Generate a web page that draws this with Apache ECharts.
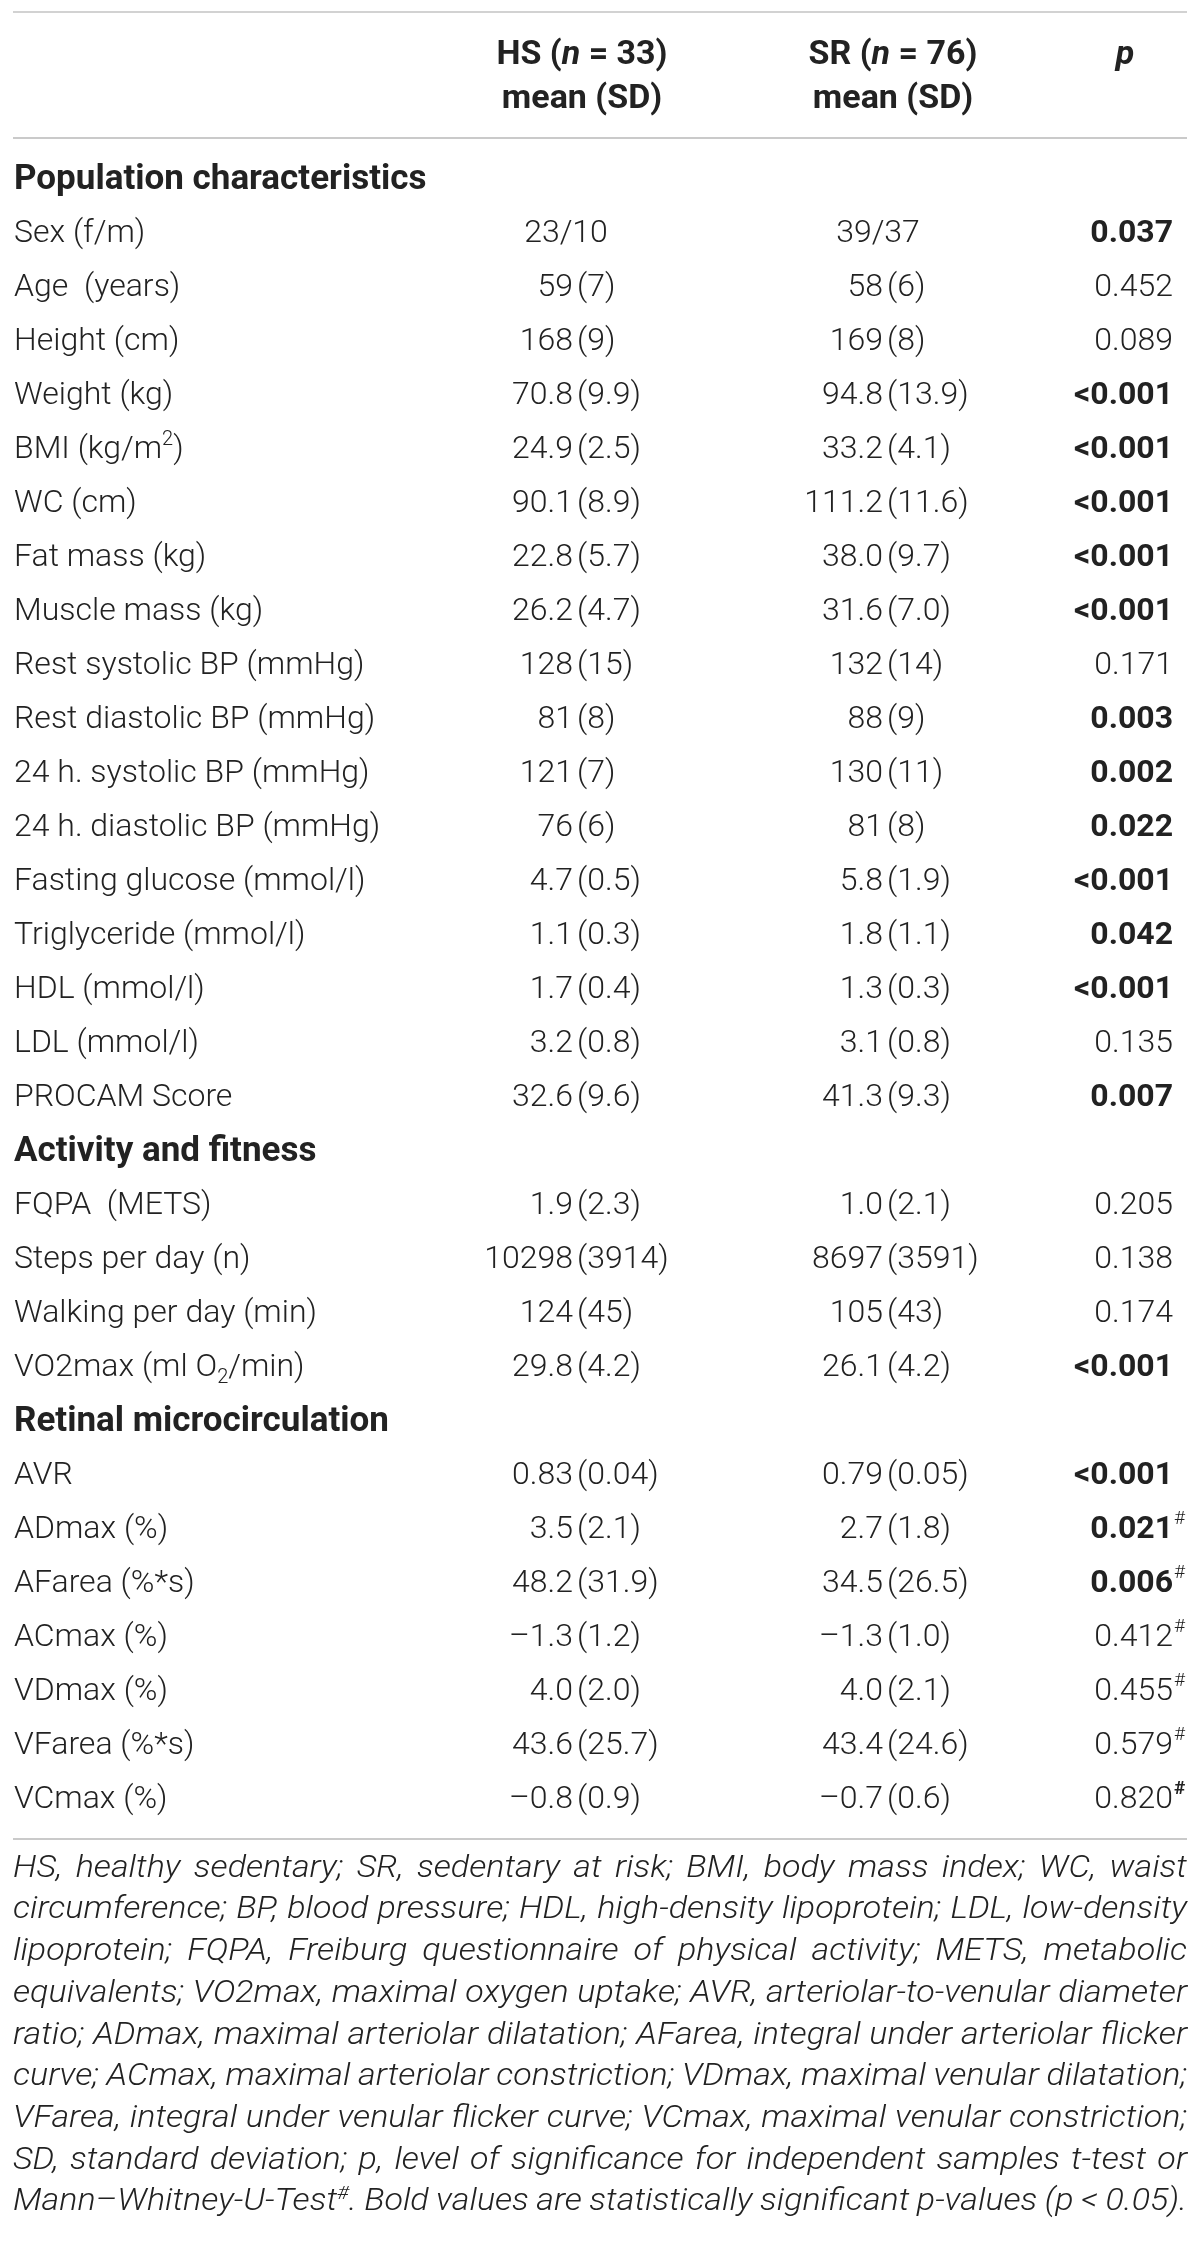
<!DOCTYPE html>
<html>
<head>
<meta charset="utf-8">
<script src="https://cdn.jsdelivr.net/npm/echarts@6/dist/echarts.min.js"></script>
<style>
  html, body { margin: 0; padding: 0; background: #fff; }
  #main { width: 1200px; height: 2243px; }
</style>
</head>
<body>
<div id="main"></div>
<script>
var FONT = 'Roboto, "Liberation Sans", Arial, sans-serif';
var FOOT_FONT = 'Roboto, "Liberation Sans", sans-serif';
var INK = '#222';
var RULE = '#b8b8b8';

// rows of the table, section titles have no values
var rowLabels = [
  'Population characteristics',
  'Sex (f/m)', 'Age  (years)', 'Height (cm)', 'Weight (kg)', 'BMI (kg/m{sup|2})',
  'WC (cm)', 'Fat mass (kg)', 'Muscle mass (kg)', 'Rest systolic BP (mmHg)',
  'Rest diastolic BP (mmHg)', '24 h. systolic BP (mmHg)', '24 h. diastolic BP (mmHg)',
  'Fasting glucose (mmol/l)', 'Triglyceride (mmol/l)', 'HDL (mmol/l)', 'LDL (mmol/l)',
  'PROCAM Score',
  'Activity and fitness',
  'FQPA  (METS)', 'Steps per day (n)', 'Walking per day (min)', 'VO2max (ml O{sub|2}/min)',
  'Retinal microcirculation',
  'AVR', 'ADmax (%)', 'AFarea (%*s)', 'ACmax (%)', 'VDmax (%)', 'VFarea (%*s)', 'VCmax (%)'
];
var hsMean = [null, '23/10', '59', '168', '70.8', '24.9', '90.1', '22.8', '26.2', '128', '81', '121', '76',
  '4.7', '1.1', '1.7', '3.2', '32.6', null, '1.9', '10298', '124', '29.8', null,
  '0.83', '3.5', '48.2', '–1.3', '4.0', '43.6', '–0.8'];
var hsSd = [null, null, '7', '9', '9.9', '2.5', '8.9', '5.7', '4.7', '15', '8', '7', '6',
  '0.5', '0.3', '0.4', '0.8', '9.6', null, '2.3', '3914', '45', '4.2', null,
  '0.04', '2.1', '31.9', '1.2', '2.0', '25.7', '0.9'];
var srMean = [null, '39/37', '58', '169', '94.8', '33.2', '111.2', '38.0', '31.6', '132', '88', '130', '81',
  '5.8', '1.8', '1.3', '3.1', '41.3', null, '1.0', '8697', '105', '26.1', null,
  '0.79', '2.7', '34.5', '–1.3', '4.0', '43.4', '–0.7'];
var srSd = [null, null, '6', '8', '13.9', '4.1', '11.6', '9.7', '7.0', '14', '9', '11', '8',
  '1.9', '1.1', '0.3', '0.8', '9.3', null, '2.1', '3591', '43', '4.2', null,
  '0.05', '1.8', '26.5', '1.0', '2.1', '24.6', '0.6'];
var pValues = [null, '0.037', '0.452', '0.089', '<0.001', '<0.001', '<0.001', '<0.001', '<0.001', '0.171',
  '0.003', '0.002', '0.022', '<0.001', '0.042', '<0.001', '0.135', '0.007', null,
  '0.205', '0.138', '0.174', '<0.001', null,
  '<0.001', '0.021', '0.006', '0.412', '0.455', '0.579', '0.820'];
// 1 = significant (bold)
var pBold = [0, 1, 0, 0, 1, 1, 1, 1, 1, 0, 1, 1, 1, 1, 1, 1, 0, 1, 0, 0, 0, 0, 1, 0, 1, 1, 1, 0, 0, 0, 0];
// 1 = Mann-Whitney mark, 2 = bold mark
var pHash = [0, 0, 0, 0, 0, 0, 0, 0, 0, 0, 0, 0, 0, 0, 0, 0, 0, 0, 0, 0, 0, 0, 0, 0, 0, 1, 1, 1, 1, 1, 2];

var footLines = [
  'HS, healthy sedentary; SR, sedentary at risk; BMI, body mass index; WC, waist',
  'circumference; BP, blood pressure; HDL, high-density lipoprotein; LDL, low-density',
  'lipoprotein; FQPA, Freiburg questionnaire of physical activity; METS, metabolic',
  'equivalents; VO2max, maximal oxygen uptake; AVR, arteriolar-to-venular diameter',
  'ratio; ADmax, maximal arteriolar dilatation; AFarea, integral under arteriolar flicker',
  'curve; ACmax, maximal arteriolar constriction; VDmax, maximal venular dilatation;',
  'VFarea, integral under venular flicker curve; VCmax, maximal venular constriction;',
  'SD, standard deviation; p, level of significance for independent samples t-test or',
  'Mann–Whitney-U-Test{s|#}. Bold values are statistically significant p-values (p < 0.05).'
];

// layout (px)
var FS = 32, FS_SECTION = 35, FS_HEAD = 34, FS_FOOT = 31;
var xLabel = 14, xHS = 577, xSR = 887, xHSmid = 566, xSRmid = 878, xP = 1173, xPhead = 1125;
var ruleL = 13, ruleR = 1187;
var footTop = 1869, footStep = 41.7;

var labelRich = {
  sup: { fontSize: 20, fontWeight: 300, fontFamily: FONT, verticalAlign: 'top', fill: INK },
  sub: { fontSize: 20, fontWeight: 300, fontFamily: FONT, verticalAlign: 'bottom', fill: INK }
};

function txt(x, y, s, align, bold, extra) {
  var st = {
    x: x, y: y, text: s, fill: INK, fontFamily: FONT, fontSize: FS,
    fontWeight: bold ? 700 : 300, align: align, verticalAlign: 'middle',
    lineHeight: 40
  };
  if (extra) for (var k in extra) st[k] = extra[k];
  return { type: 'text', style: st };
}

function renderRow(params, api) {
  var i = api.value(1);
  var y = api.coord([0, i])[1];
  var X = function (v) { return api.coord([v, i])[0]; };
  var kids = [];
  var section = hsMean[i] == null;
  kids.push(txt(X(xLabel), y, rowLabels[i], 'left', section,
    { rich: labelRich, fontSize: section ? FS_SECTION : FS }));
  if (section) return { type: 'group', children: kids };

  [[hsMean, hsSd, xHS, xHSmid], [srMean, srSd, xSR, xSRmid]].forEach(function (c) {
    var m = c[0][i], sd = c[1][i];
    if (sd == null) {
      kids.push(txt(X(c[3]), y, m, 'center', false));
    } else {
      kids.push(txt(X(c[2]) - 4, y, m, 'right', false));
      kids.push(txt(X(c[2]), y, '(' + sd + ')', 'left', false));
    }
  });
  kids.push(txt(X(xP), y, pValues[i], 'right', pBold[i] === 1));
  if (pHash[i]) {
    kids.push(txt(X(xP) + 1, y - 11, '#', 'left', pHash[i] === 2, { fontSize: 19 }));
  }
  return { type: 'group', children: kids };
}

// ---- footnote, justified word by word
var ctx = document.createElement('canvas').getContext('2d');
function fnt(size) { return 'italic 300 ' + size + 'px ' + FOOT_FONT; }
function wordWidth(w, size) {
  var parts = w.split(/(\{s\|[^}]*\})/), tot = 0;
  parts.forEach(function (p) {
    if (!p) return;
    var m = p.match(/^\{s\|(.*)\}$/);
    if (m) { ctx.font = fnt(Math.round(size * 0.62)); tot += ctx.measureText(m[1]).width; }
    else { ctx.font = fnt(size); tot += ctx.measureText(p).width; }
  });
  return tot;
}
var lineW = ruleR - ruleL;
// horizontal stretch so the tightest line keeps a normal word gap
var footScale = Infinity;
footLines.forEach(function (l) {
  var words = l.split(' ');
  var sum = words.reduce(function (a, w) { return a + wordWidth(w, FS_FOOT); }, 0);
  var s = (lineW - (words.length - 1) * FS_FOOT * 0.24) / sum;
  if (s < footScale) footScale = s;
});

var graphics = [
  { type: 'line', shape: { x1: ruleL, y1: 12, x2: ruleR, y2: 12 }, style: { stroke: '#d2d2d2', lineWidth: 2 } },
  { type: 'line', shape: { x1: ruleL, y1: 138, x2: ruleR, y2: 138 }, style: { stroke: RULE, lineWidth: 1.5 } },
  { type: 'line', shape: { x1: ruleL, y1: 1839, x2: ruleR, y2: 1839 }, style: { stroke: RULE, lineWidth: 1.5 } }
];
var headRich = {
  b: { fontFamily: FONT, fontSize: FS_HEAD, fontWeight: 700, fill: INK },
  bi: { fontFamily: FONT, fontSize: FS_HEAD, fontWeight: 700, fontStyle: 'italic', fill: INK }
};
[['{b|HS (}{bi|n}{b| = 33)}', 582, 55], ['{b|mean (SD)}', 582, 99],
 ['{b|SR (}{bi|n}{b| = 76)}', 893, 55], ['{b|mean (SD)}', 893, 99],
 ['{bi|p}', xPhead, 55]].forEach(function (h) {
  graphics.push({ type: 'text', x: h[1], y: h[2],
    style: { text: h[0], rich: headRich, align: 'center', verticalAlign: 'middle', textAlign: 'center', textVerticalAlign: 'middle' } });
});

footLines.forEach(function (l, k) {
  var words = l.split(' ');
  var widths = words.map(function (w) { return wordWidth(w, FS_FOOT) * footScale; });
  var sum = widths.reduce(function (a, b) { return a + b; }, 0);
  var gap = (lineW - sum) / (words.length - 1);
  var x = ruleL, y = footTop + k * footStep;
  words.forEach(function (w, j) {
    var rich = {
      s: { fontFamily: FOOT_FONT, fontStyle: 'italic', fontWeight: 300, fontSize: Math.round(FS_FOOT * 0.62), verticalAlign: 'top', fill: INK }
    };
    graphics.push({ type: 'text', x: x, y: y, scaleX: footScale,
      style: { text: w, rich: rich, fontFamily: FOOT_FONT, fontStyle: 'italic', fontWeight: 300,
        fontSize: FS_FOOT, fill: INK, lineHeight: 36, align: 'left', verticalAlign: 'middle',
        textAlign: 'left', textVerticalAlign: 'middle' } });
    x += widths[j] + gap;
  });
});

var chart = echarts.init(document.getElementById('main'), null, { renderer: 'canvas' });
var option = {
  backgroundColor: '#fff',
  animation: false,
  grid: { left: 0, right: 0, top: 153, height: rowLabels.length * 54 },
  xAxis: { type: 'value', min: 0, max: 1200, show: false },
  yAxis: { type: 'category', data: rowLabels, inverse: true, show: false },
  series: [{
    type: 'custom',
    silent: true,
    clip: false,
    renderItem: renderRow,
    data: rowLabels.map(function (_, i) { return [0, i]; })
  }],
  graphic: graphics
};
chart.setOption(option);
</script>
</body>
</html>
